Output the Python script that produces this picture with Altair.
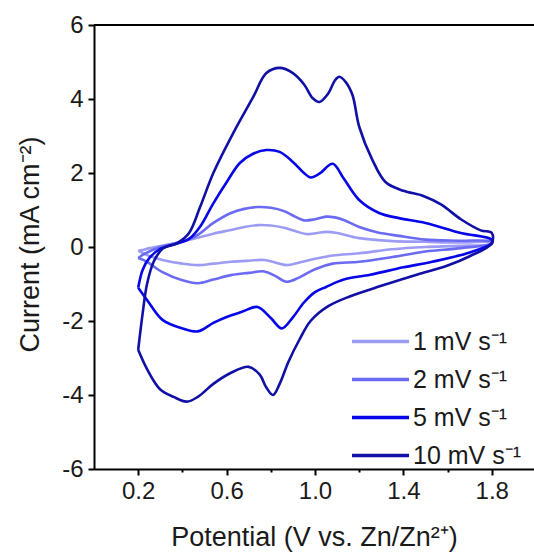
import altair as alt
import pandas as pd

rates = ["1 mV s⁻¹", "2 mV s⁻¹", "5 mV s⁻¹", "10 mV s⁻¹"]
colors = ["#9c9cf5", "#6a6af2", "#0606e8", "#1010a6"]

# 1 mV/s loop (anodic 0.2 -> 1.8, then cathodic 1.8 -> 0.2)
v_1 = [0.20, 0.22, 0.25, 0.32, 0.40, 0.47, 0.54, 0.62, 0.68, 0.74, 0.80, 0.86, 0.91, 0.96, 1.01, 1.05, 1.10, 1.20, 1.35, 1.50, 1.65, 1.80,
       1.80, 1.65, 1.50, 1.35, 1.20, 1.08, 1.00, 0.93, 0.87, 0.82, 0.77, 0.70, 0.62, 0.54, 0.47, 0.40, 0.31, 0.24, 0.20]
i_1 = [-0.10, -0.08, -0.03, 0.05, 0.15, 0.25, 0.36, 0.46, 0.54, 0.59, 0.58, 0.52, 0.43, 0.35, 0.38, 0.41, 0.38, 0.24, 0.16, 0.14, 0.12, 0.12,
       0.08, 0.03, 0.00, -0.06, -0.17, -0.23, -0.32, -0.42, -0.49, -0.42, -0.35, -0.37, -0.40, -0.45, -0.49, -0.45, -0.35, -0.22, -0.10]

# 2 mV/s loop
v_2 = [0.20, 0.23, 0.30, 0.40, 0.47, 0.54, 0.62, 0.68, 0.74, 0.80, 0.86, 0.91, 0.95, 1.00, 1.05, 1.09, 1.13, 1.20, 1.28, 1.38, 1.50, 1.65, 1.80,
       1.80, 1.66, 1.50, 1.35, 1.20, 1.08, 1.00, 0.93, 0.87, 0.82, 0.77, 0.70, 0.62, 0.54, 0.47, 0.40, 0.31, 0.24, 0.20]
i_2 = [-0.30, -0.18, 0.00, 0.15, 0.33, 0.65, 0.92, 1.03, 1.08, 1.06, 0.97, 0.82, 0.72, 0.75, 0.82, 0.80, 0.73, 0.54, 0.40, 0.30, 0.20, 0.17, 0.15,
       0.10, -0.03, -0.12, -0.27, -0.40, -0.45, -0.60, -0.82, -0.94, -0.78, -0.66, -0.70, -0.76, -0.88, -0.98, -0.90, -0.68, -0.40, -0.30]

# 5 mV/s loop
v_5 = [0.20, 0.22, 0.25, 0.30, 0.37, 0.43, 0.48, 0.54, 0.60, 0.66, 0.72, 0.78, 0.84, 0.90, 0.95, 0.98, 1.02, 1.08, 1.13, 1.20, 1.29, 1.38, 1.50, 1.66, 1.80,
       1.80, 1.70, 1.53, 1.40, 1.25, 1.13, 1.05, 1.00, 0.95, 0.90, 0.85, 0.80, 0.74, 0.67, 0.60, 0.54, 0.47, 0.40, 0.31, 0.24, 0.20]
i_5 = [-1.10, -0.62, -0.30, -0.05, 0.08, 0.22, 0.55, 1.18, 1.75, 2.27, 2.52, 2.62, 2.57, 2.30, 2.00, 1.88, 1.98, 2.25, 1.85, 1.27, 0.92, 0.78, 0.65, 0.38, 0.20,
       0.10, -0.15, -0.40, -0.55, -0.75, -0.88, -1.08, -1.22, -1.50, -1.90, -2.20, -1.92, -1.62, -1.75, -1.89, -2.05, -2.28, -2.20, -1.97, -1.43, -1.10]

# 10 mV/s loop
v_10 = [0.20, 0.22, 0.24, 0.27, 0.31, 0.38, 0.43, 0.48, 0.54, 0.63, 0.72, 0.78, 0.84, 0.90, 0.95, 0.99, 1.02, 1.06, 1.09, 1.11, 1.14, 1.17, 1.20, 1.26, 1.32, 1.40, 1.49, 1.57, 1.66, 1.75, 1.80,
        1.80, 1.70, 1.60, 1.46, 1.30, 1.16, 1.06, 0.98, 0.93, 0.88, 0.84, 0.81, 0.78, 0.75, 0.70, 0.62, 0.54, 0.47, 0.42, 0.36, 0.30, 0.24, 0.20]
i_10 = [-2.78, -1.80, -1.00, -0.40, -0.05, 0.12, 0.38, 1.08, 2.00, 3.08, 4.05, 4.70, 4.84, 4.70, 4.40, 4.02, 3.92, 4.15, 4.50, 4.60, 4.45, 4.10, 3.25, 2.35, 1.75, 1.52, 1.38, 1.15, 0.75, 0.45, 0.38,
        0.10, -0.25, -0.50, -0.75, -1.05, -1.33, -1.60, -2.00, -2.50, -3.10, -3.70, -4.00, -3.80, -3.45, -3.24, -3.40, -3.70, -4.05, -4.18, -4.05, -3.85, -3.30, -2.78]

x_ticks = [0.2, 0.4, 0.6, 0.8, 1.0, 1.2, 1.4, 1.6, 1.8]
y_ticks = [-6, -5, -4, -3, -2, -1, 0, 1, 2, 3, 4, 5, 6]

rows = []
for name, vs, cs in zip(rates, [v_1, v_2, v_5, v_10], [i_1, i_2, i_5, i_10]):
    for k, (v, c) in enumerate(zip(vs, cs)):
        rows.append({"rate": name, "k": k, "V": v, "I": c})
df = pd.DataFrame(rows)

FONT = "Liberation Sans"
TXT = "#1a1a1a"

x_axis = alt.Axis(
    values=x_ticks,
    labelExpr="round(datum.value*10) % 4 == 2 ? format(datum.value, '.1f') : ''",
    tickSize={"condition": {"test": "round(datum.value*10) % 4 == 2", "value": 6}, "value": 3},
    title="Potential (V vs. Zn/Zn²⁺)",
    titleY=76, titleBaseline="alphabetic",
    labelPadding=4, grid=False,
)
y_axis = alt.Axis(
    values=y_ticks,
    labelExpr="datum.value % 2 == 0 ? '' + datum.value : ''",
    tickSize={"condition": {"test": "datum.value % 2 == 0", "value": 6}, "value": 3},
    title="Current (mA cm⁻²)",
    titleX=-56, titleY=219, titleAlign="center", titleBaseline="alphabetic", titleAngle=270,
    labelPadding=5, grid=False,
)

lines = alt.Chart(df).mark_line(strokeWidth=2.6, clip=True, interpolate="catmull-rom").encode(
    x=alt.X("V:Q", scale=alt.Scale(domain=[0, 1.991], nice=False, zero=False), axis=x_axis),
    y=alt.Y("I:Q", scale=alt.Scale(domain=[-6, 6], nice=False), axis=y_axis),
    color=alt.Color("rate:N", scale=alt.Scale(domain=rates, range=colors),
                    legend=alt.Legend(title=None, orient="none", legendX=274, legendY=304,
                                      symbolType="M-2.85,0H2.85", symbolSize=400, symbolStrokeWidth=3.5,
                                      labelFontSize=25, labelFont=FONT, labelColor=TXT,
                                      rowPadding=12, labelOffset=20, symbolOffset=0, padding=0,
                                      labelLimit=400)),
    detail="rate:N",
    order="k:Q",
)

top = alt.Chart(pd.DataFrame({"y": [6]})).mark_rule(color="black", strokeWidth=2).encode(y="y:Q")

chart = alt.layer(lines, top).properties(
    width=440, height=444,
    padding={"left": 94, "top": 25, "right": 0, "bottom": 83},
    autosize=alt.AutoSizeParams(type="none"),
).configure_view(stroke=None).configure_axis(
    domainColor="black", domainWidth=2, tickColor="black", tickWidth=2,
    labelFont=FONT, labelFontSize=24, labelColor=TXT,
    titleFont=FONT, titleFontSize=27, titleFontWeight="normal", titleColor=TXT,
)

chart.save("out.html", embed_options={"renderer": "svg", "actions": False})
